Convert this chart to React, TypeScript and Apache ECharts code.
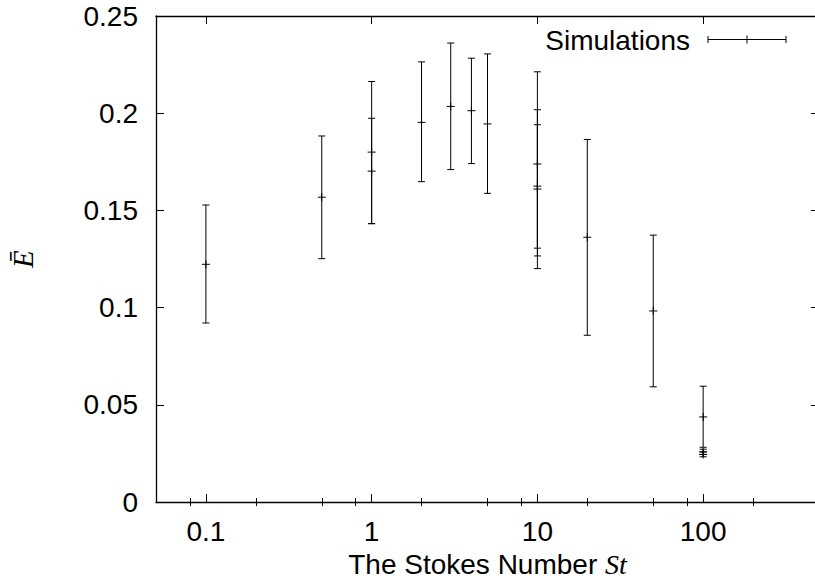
import React, { useEffect, useRef } from 'react';
import * as echarts from 'echarts';

// Stokes numbers (x) and the simulated mean efficiency with its error bar ends
const stokesNumbers = [0.1, 0.5, 1, 1, 2, 3, 4, 5, 10, 10, 10, 20, 50, 100, 100, 100];
const meanE = [0.1223, 0.1568, 0.18, 0.1702, 0.1953, 0.2035, 0.2013, 0.1945, 0.1739, 0.161, 0.1625, 0.1362, 0.0983, 0.0438, 0.0258, 0.0245];
const lowE = [0.0921, 0.1252, 0.1432, 0.1432, 0.1648, 0.171, 0.1741, 0.1588, 0.1266, 0.1201, 0.1306, 0.0858, 0.0593, 0.0282, 0.0245, 0.0233];
const highE = [0.1528, 0.1883, 0.2163, 0.1974, 0.2264, 0.2361, 0.2283, 0.2305, 0.2213, 0.2018, 0.1941, 0.1865, 0.1373, 0.0596, 0.0272, 0.0258];

const majorXTicks = [0.1, 1, 10, 100];
const minorXTicks = [0.08, 0.2, 0.5, 0.8, 2, 5, 8, 20, 50, 80, 200];
const xMin = 0.05;
const xMax = 500;
const yMin = 0;
const yMax = 0.25;
const yStep = 0.05;

const seriesName = 'Simulations';
const xTitleMain = 'The Stokes Number ';
const xTitleSymbol = 'St';
const yTitle = 'Ē';

const SANS = '"Liberation Sans", Arial, Helvetica, sans-serif';
const SERIF = '"Liberation Serif", "Times New Roman", serif';

export default function App() {
  const ref = useRef<HTMLDivElement>(null);

  useEffect(() => {
    if (!ref.current) return;
    const chart = echarts.init(ref.current, undefined, { renderer: 'svg' });

    const data = stokesNumbers.map((x, i) => [x, meanE[i], lowE[i], highE[i]]);

    const baseX = {
      type: 'log' as const,
      logBase: 10,
      min: xMin,
      max: xMax,
      gridIndex: 0,
      splitLine: { show: false },
      axisLine: { show: true, onZero: false, lineStyle: { color: '#000', width: 1.3 } },
    };

    const tickLine = { color: '#000', width: 1 };

    const option: any = {
      animation: false,
      backgroundColor: '#fff',
      grid: { left: 154, top: 16, width: 665, height: 491, containLabel: false },
      xAxis: [
        {
          ...baseX,
          position: 'bottom',
          axisTick: { show: true, inside: true, length: 8, customValues: majorXTicks, lineStyle: tickLine },
          axisLabel: {
            show: true,
            customValues: majorXTicks,
            margin: 15,
            color: '#000',
            fontSize: 28,
            fontFamily: SANS,
            formatter: (v: number) => String(parseFloat(v.toPrecision(6))),
          },
          name: `{a|${xTitleMain}}{b|${xTitleSymbol}}`,
          nameLocation: 'middle',
          nameGap: 39,
          nameTextStyle: {
            rich: {
              a: { fontSize: 28, fontFamily: SANS, color: '#000' },
              b: { fontSize: 28, fontFamily: SERIF, fontStyle: 'italic', color: '#000' },
            },
          },
        },
        {
          ...baseX,
          position: 'bottom',
          axisLine: { show: false },
          axisTick: { show: true, inside: true, length: 4, customValues: minorXTicks, lineStyle: tickLine },
          axisLabel: { show: false, customValues: minorXTicks },
        },
        {
          ...baseX,
          position: 'top',
          axisTick: { show: true, inside: true, length: 8, customValues: majorXTicks, lineStyle: tickLine },
          axisLabel: { show: false, customValues: majorXTicks },
        },
        {
          ...baseX,
          position: 'top',
          axisLine: { show: false },
          axisTick: { show: true, inside: true, length: 4, customValues: minorXTicks, lineStyle: tickLine },
          axisLabel: { show: false, customValues: minorXTicks },
        },
      ],
      yAxis: [
        {
          type: 'value',
          min: yMin,
          max: yMax,
          interval: yStep,
          position: 'left',
          splitLine: { show: false },
          axisLine: { show: true, onZero: false, lineStyle: { color: '#000', width: 1.3 } },
          axisTick: { show: true, inside: true, length: 8, lineStyle: tickLine },
          axisLabel: { margin: 18, color: '#000', fontSize: 28, fontFamily: SANS },
          name: yTitle,
          nameLocation: 'middle',
          nameRotate: 90,
          nameGap: 119,
          nameTextStyle: { fontSize: 29, fontFamily: SERIF, fontStyle: 'italic', color: '#000' },
        },
        {
          type: 'value',
          min: yMin,
          max: yMax,
          interval: yStep,
          position: 'right',
          splitLine: { show: false },
          axisLine: { show: true, onZero: false, lineStyle: { color: '#000', width: 1.3 } },
          axisTick: { show: true, inside: true, length: 8, lineStyle: tickLine },
          axisLabel: { show: false },
        },
      ],
      graphic: [
        {
          type: 'text',
          x: 690,
          y: 40,
          style: {
            text: seriesName,
            fontSize: 28,
            fontFamily: SANS,
            fill: '#000',
            align: 'right',
            verticalAlign: 'middle',
          },
          silent: true,
        },
        {
          type: 'group',
          x: 708,
          y: 39.5,
          silent: true,
          children: [
            { type: 'line', shape: { x1: 0, y1: 0, x2: 78, y2: 0 }, style: { stroke: '#000', lineWidth: 1 } },
            { type: 'line', shape: { x1: 0, y1: -3.5, x2: 0, y2: 3.5 }, style: { stroke: '#000', lineWidth: 1 } },
            { type: 'line', shape: { x1: 78, y1: -3.5, x2: 78, y2: 3.5 }, style: { stroke: '#000', lineWidth: 1 } },
            { type: 'line', shape: { x1: 39, y1: -4, x2: 39, y2: 4 }, style: { stroke: '#000', lineWidth: 1 } },
          ],
        },
      ],
      series: [
        {
          name: seriesName,
          type: 'custom',
          xAxisIndex: 0,
          yAxisIndex: 0,
          data,
          encode: { x: 0, y: [1, 2, 3] },
          renderItem: (_params: any, api: any) => {
            const x = api.value(0);
            const m = api.coord([x, api.value(1)]);
            const lo = api.coord([x, api.value(2)]);
            const hi = api.coord([x, api.value(3)]);
            const style = { stroke: '#000', lineWidth: 1, fill: null };
            const cap = 3.5;
            const plus = 4;
            return {
              type: 'group',
              children: [
                { type: 'line', shape: { x1: lo[0], y1: lo[1], x2: hi[0], y2: hi[1] }, style },
                { type: 'line', shape: { x1: lo[0] - cap, y1: lo[1], x2: lo[0] + cap, y2: lo[1] }, style },
                { type: 'line', shape: { x1: hi[0] - cap, y1: hi[1], x2: hi[0] + cap, y2: hi[1] }, style },
                { type: 'line', shape: { x1: m[0] - plus, y1: m[1], x2: m[0] + plus, y2: m[1] }, style },
                { type: 'line', shape: { x1: m[0], y1: m[1] - plus, x2: m[0], y2: m[1] + plus }, style },
              ],
            };
          },
        },
      ],
    };

    chart.setOption(option);
    return () => chart.dispose();
  }, []);

  return (
    <div
      ref={ref}
      style={{ position: 'fixed', left: 0, top: 0, width: 830, height: 583, background: '#fff' }}
    />
  );
}
